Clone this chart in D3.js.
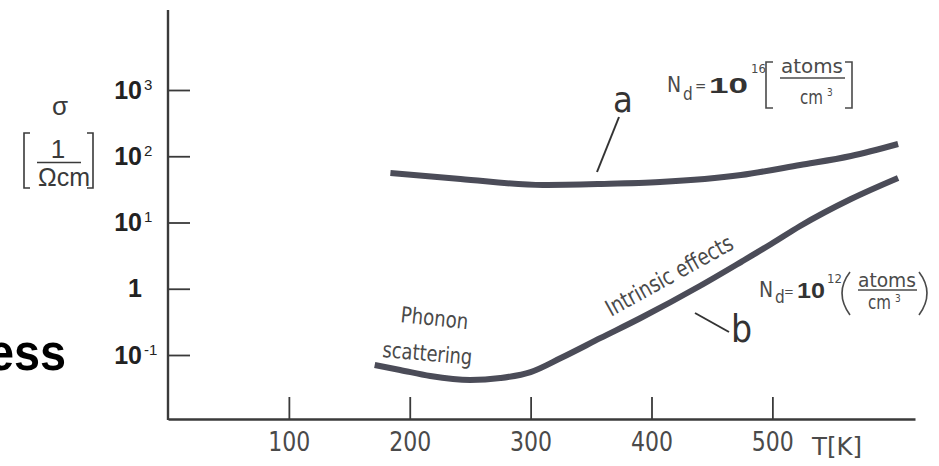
<!DOCTYPE html>
<html><head><meta charset="utf-8">
<script src="https://cdn.jsdelivr.net/npm/d3@7"></script>
<style>html,body{margin:0;padding:0;background:#fff;overflow:hidden}</style>
</head><body>
<svg id="c" width="939" height="466"></svg>
<script>
// ---- data ----
const tempA  = [184, 242, 310, 358, 407, 474, 523, 565, 604];
const sigmaA = [55.8, 45.4, 36.8, 38.1, 40.8, 52.1, 73.8, 101, 153];
const tempB  = [171, 192, 217, 250, 275, 300, 325, 358, 391, 440, 474, 499, 523, 565, 604];
const sigmaB = [0.0706, 0.0594, 0.0482, 0.042, 0.045, 0.0553, 0.090, 0.181, 0.362, 1.10, 2.53, 4.73, 8.85, 22.6, 47];
const xTicks = [100, 200, 300, 400, 500];
const yTicks = [0.1, 1, 10, 100, 1000];
const yTickBase = ["10", "1", "10", "10", "10"];
const yTickExp  = ["-1", "", "1", "2", "3"];

const svg = d3.select("#c");
const NARROW = "'Liberation Sans Narrow','DejaVu Sans Condensed','Arial Narrow',sans-serif";
const SANS = "'Liberation Sans',Arial,sans-serif";
const INK = "#3a3a3a", CURVE = "#4b4c58", TXT = "#4a4a4a";

const x = d3.scaleLinear().domain([0, 618]).range([168, 915]);
const y = d3.scaleLog().domain([0.1, 1000]).range([355, 90]);
const AXIS_Y = 419, AXIS_TOP = 10;

// x axis
const gx = svg.append("g").attr("transform", `translate(0,${AXIS_Y})`)
  .call(d3.axisBottom(x).tickValues(xTicks).tickSize(-22).tickSizeOuter(0).tickPadding(13).tickFormat(d3.format("d")));
gx.select(".domain").attr("stroke", INK).attr("stroke-width", 2.4);
gx.selectAll(".tick line").attr("stroke", INK).attr("stroke-width", 1.8);
gx.selectAll(".tick text").attr("fill", TXT).style("font-family", NARROW).style("font-size", "27px")
  .attr("textLength", 42).attr("lengthAdjust", "spacingAndGlyphs");
svg.append("text").attr("x", 812).attr("y", 455).text("T[K]")
  .attr("fill", TXT).style("font-family", NARROW).style("font-size", "24px")
  .attr("textLength", 50).attr("lengthAdjust", "spacingAndGlyphs");

// y axis
svg.append("line").attr("x1", 168).attr("x2", 168).attr("y1", AXIS_Y + 1).attr("y2", AXIS_TOP)
  .attr("stroke", INK).attr("stroke-width", 2.4);
const gy = svg.append("g").attr("transform", "translate(168,0)")
  .call(d3.axisLeft(y).tickValues(yTicks).tickSize(-22).tickPadding(26).tickFormat((d, i) => yTickBase[i]));
gy.select(".domain").remove();
gy.selectAll(".tick line").attr("stroke", INK).attr("stroke-width", 1.8);
gy.selectAll(".tick text").attr("fill", "#222").style("font-family", SANS)
  .style("font-size", "25px").style("font-weight", "bold");
gy.selectAll(".tick").append("text")
  .attr("x", -24).attr("y", -1)
  .attr("text-anchor", "start")
  .attr("fill", "#222").style("font-family", SANS).style("font-size", "15px")
  .text((d, i) => yTickExp[i]);

// y axis unit label
svg.append("text").attr("x", 60).attr("y", 115).attr("text-anchor", "middle").text("σ")
  .attr("fill", INK).style("font-family", SANS).style("font-size", "26px");
svg.append("text").attr("x", 58).attr("y", 158).attr("text-anchor", "middle").text("1")
  .attr("fill", INK).style("font-family", SANS).style("font-size", "26px");
svg.append("line").attr("x1", 37).attr("x2", 81).attr("y1", 162.5).attr("y2", 162.5)
  .attr("stroke", INK).attr("stroke-width", 1.6);
svg.append("text").attr("x", 64).attr("y", 186).attr("text-anchor", "middle").text("Ωcm")
  .attr("fill", INK).style("font-family", SANS).style("font-size", "25px");
svg.append("path").attr("d", "M30,133H24V188H30M87,133H93V188H87")
  .attr("fill", "none").attr("stroke", INK).attr("stroke-width", 1.6);

// clipped slide text
svg.append("text").attr("x", -12).attr("y", 370).text("ess")
  .attr("fill", "#000").style("font-family", SANS).style("font-weight", "bold").style("font-size", "52px")
  .attr("textLength", 78).attr("lengthAdjust", "spacingAndGlyphs");

// curves
const line = d3.line().x(d => x(d[0])).y(d => y(d[1])).curve(d3.curveMonotoneX);
svg.append("path").datum(d3.zip(tempA, sigmaA)).attr("d", line)
  .attr("fill", "none").attr("stroke", CURVE).attr("stroke-width", 6);
svg.append("path").datum(d3.zip(tempB, sigmaB)).attr("d", line)
  .attr("fill", "none").attr("stroke", CURVE).attr("stroke-width", 6);

// curve labels
svg.append("text").attr("x", 613).attr("y", 112).text("a")
  .attr("fill", "#333").style("font-family", NARROW).style("font-size", "36px");
svg.append("line").attr("x1", 619).attr("y1", 117).attr("x2", 597).attr("y2", 172)
  .attr("stroke", "#333").attr("stroke-width", 2);
svg.append("text").attr("x", 731).attr("y", 342).text("b")
  .attr("fill", "#333").style("font-family", NARROW).style("font-size", "37px");
svg.append("line").attr("x1", 695).attr("y1", 313).attr("x2", 729).attr("y2", 332)
  .attr("stroke", "#333").attr("stroke-width", 2);

// annotations
function rtext(tx, ty, ang, s, size, len) {
  svg.append("text").attr("transform", `translate(${tx},${ty}) rotate(${ang})`).text(s)
    .attr("fill", TXT).style("font-family", NARROW).style("font-size", size + "px")
    .attr("textLength", len).attr("lengthAdjust", "spacingAndGlyphs");
}
rtext(611, 317, -29, "Intrinsic effects", 23, 142);
rtext(400, 322, 6, "Phonon", 22, 68);
rtext(382, 357, 5, "scattering", 22, 90);

function t(xp, yp, s, size, opts = {}) {
  const e = svg.append("text").attr("x", xp).attr("y", yp).text(s)
    .attr("fill", opts.fill || TXT).style("font-family", opts.font || NARROW).style("font-size", size + "px");
  if (opts.bold) e.style("font-weight", "bold");
  if (opts.anchor) e.attr("text-anchor", opts.anchor);
  if (opts.len) e.attr("textLength", opts.len).attr("lengthAdjust", "spacingAndGlyphs");
  return e;
}
// Nd = 10^16 [atoms/cm3]
t(667, 92, "N", 21);
t(683, 100, "d", 17);
t(695, 91, "=", 15);
t(709, 93, "10", 22, {bold: true, font: SANS, fill: "#333", len: 39});
t(751, 73, "16", 13);
t(812, 73, "atoms", 20, {anchor: "middle", len: 62});
svg.append("line").attr("x1", 780).attr("x2", 845).attr("y1", 78).attr("y2", 78).attr("stroke", TXT).attr("stroke-width", 1.4);
t(800, 104, "cm", 20, {len: 23});
t(827, 96, "3", 10);
svg.append("path").attr("d", "M773,62H766V108H773M845,62H852V108H845")
  .attr("fill", "none").attr("stroke", TXT).attr("stroke-width", 1.6);

// Nd = 10^12 (atoms/cm3)
t(759, 297, "N", 21);
t(775, 303, "d", 17);
t(784, 296, "=", 13);
t(797, 298, "10", 22, {bold: true, font: SANS, fill: "#333", len: 28});
t(827, 283, "12", 13);
svg.append("path").attr("d", "M850,272Q834,293 850,315M919,272Q935,293 919,315")
  .attr("fill", "none").attr("stroke", TXT).attr("stroke-width", 1.6);
t(887, 287, "atoms", 20, {anchor: "middle", len: 58});
svg.append("line").attr("x1", 858).attr("x2", 917).attr("y1", 290).attr("y2", 290).attr("stroke", TXT).attr("stroke-width", 1.4);
t(868, 309, "cm", 20, {len: 23});
t(895, 302, "3", 10);
</script>
</body></html>
